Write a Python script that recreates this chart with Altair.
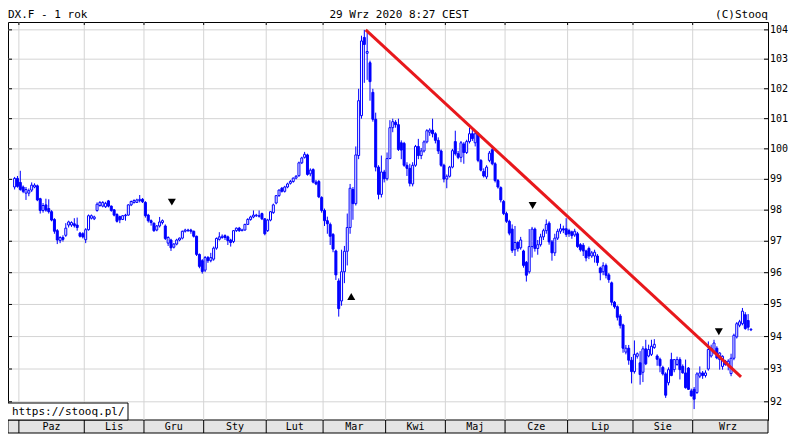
import altair as alt
import pandas as pd

# ---------------- data ----------------
opens = [
    98.75, 99.03, 98.90, 98.75, 98.55, 98.55, 98.65, 98.75, 98.79, 98.37,
    97.99, 98.17, 98.05, 97.95, 97.70, 97.34, 97.02, 97.12, 97.19, 97.52,
    97.52, 97.56, 97.52, 97.26, 97.24, 97.05, 97.37, 97.74, 97.72, 97.99,
    98.15, 98.13, 98.11, 98.30, 98.13, 98.01, 97.86, 97.79, 97.70, 97.82,
    97.84, 98.17, 98.25, 98.25, 98.31, 98.35, 98.25, 97.84, 97.66, 97.58,
    97.36, 97.49, 97.60, 97.49, 96.94, 97.04, 96.81, 96.91, 97.04, 97.10,
    97.32, 97.34, 97.36, 97.32, 97.16, 96.58, 96.38, 96.08, 96.48, 96.38,
    96.43, 96.78, 97.06, 97.12, 97.18, 97.14, 97.04, 96.99, 97.34, 97.42,
    97.34, 97.36, 97.54, 97.70, 97.78, 97.82, 97.80, 97.89, 97.72, 97.34,
    97.68, 97.92, 98.23, 98.47, 98.71, 98.61, 98.75, 98.87, 98.93, 99.04,
    99.12, 99.54, 99.72, 99.80, 99.18, 99.32, 98.91, 98.93, 98.41, 97.99,
    97.66, 97.54, 97.22, 96.69, 95.74, 95.11, 96.03, 96.68, 97.44, 98.67,
    98.21, 99.78, 101.10, 103.74, 103.20, 102.88, 101.88, 100.98, 99.40, 98.51,
    99.24, 99.02, 99.68, 100.70, 100.88, 100.80, 100.20, 100.18, 99.46, 99.36,
    98.85, 99.46, 100.08, 99.78, 99.93, 100.23, 100.55, 100.62, 100.50, 100.28,
    99.93, 99.46, 99.01, 99.10, 99.40, 100.24, 99.84, 99.72, 100.16, 99.88,
    100.24, 100.50, 100.20, 100.50, 99.62, 99.26, 99.08, 99.62, 99.97, 99.51,
    98.96, 98.73, 98.28, 97.89, 97.64, 97.39, 96.73, 96.96, 96.79, 96.69,
    96.33, 96.03, 96.83, 97.39, 96.77, 96.89, 97.14, 97.34, 97.58, 96.98,
    96.63, 97.10, 97.32, 97.40, 97.40, 97.34, 97.30, 97.20, 97.24, 96.89,
    96.87, 96.69, 96.77, 96.53, 96.53, 96.53, 96.15, 96.03, 96.23, 95.93,
    95.68, 95.07, 94.93, 94.64, 94.36, 93.52, 93.64, 93.27, 92.92, 93.39,
    93.19, 92.90, 93.62, 93.40, 93.45, 93.66, 93.40, 93.30, 93.05, 92.85,
    92.58, 93.29, 92.98, 93.14, 93.29, 93.08, 92.88, 93.03, 92.33, 92.38,
    92.28, 92.78, 92.88, 92.80, 93.00, 93.40, 93.50, 93.64, 93.29, 93.08,
    93.24, 93.14, 92.86, 93.33, 93.99, 94.35, 94.40, 94.68, 94.50, 94.21,
]
highs = [
    99.08, 99.11, 99.28, 98.80, 98.75, 98.70, 98.90, 98.87, 98.83, 98.40,
    98.23, 98.37, 98.35, 98.00, 97.74, 97.39, 97.16, 97.19, 97.58, 97.66,
    97.64, 97.74, 97.76, 97.30, 97.29, 97.42, 97.86, 97.86, 97.82, 98.25,
    98.29, 98.29, 98.27, 98.33, 98.15, 98.03, 97.90, 97.82, 97.84, 97.88,
    98.19, 98.31, 98.35, 98.37, 98.49, 98.39, 98.29, 97.88, 97.70, 97.60,
    97.52, 97.78, 97.70, 97.54, 97.16, 97.08, 96.94, 97.08, 97.12, 97.34,
    97.40, 97.40, 97.40, 97.34, 97.18, 96.61, 96.43, 96.53, 96.53, 96.63,
    96.83, 97.12, 97.29, 97.22, 97.22, 97.18, 97.08, 97.36, 97.44, 97.46,
    97.40, 97.56, 97.74, 97.82, 97.99, 97.88, 97.99, 97.92, 97.74, 97.72,
    97.97, 98.21, 98.49, 98.67, 98.75, 98.79, 98.89, 98.98, 99.06, 99.14,
    99.58, 99.74, 99.90, 99.84, 99.36, 99.36, 98.98, 98.98, 98.45, 98.05,
    97.79, 97.60, 97.26, 96.73, 95.82, 96.73, 96.85, 97.89, 98.85, 98.75,
    100.08, 102.00, 103.80, 104.00, 103.90, 102.95, 102.00, 101.20, 99.46, 99.78,
    99.31, 99.88, 100.95, 101.00, 100.95, 101.00, 100.28, 100.23, 99.56, 99.51,
    99.56, 100.13, 100.33, 100.03, 100.28, 100.65, 100.68, 101.00, 100.55, 100.38,
    99.98, 99.51, 99.16, 99.44, 100.00, 100.60, 99.93, 100.26, 100.22, 100.30,
    100.70, 100.62, 100.62, 100.55, 99.66, 99.36, 99.46, 99.93, 100.08, 99.56,
    99.01, 98.77, 98.33, 97.95, 97.69, 97.54, 97.49, 97.00, 97.14, 96.73,
    96.37, 97.39, 97.46, 97.44, 97.04, 97.24, 97.40, 97.70, 97.64, 97.04,
    97.24, 97.40, 97.56, 97.50, 97.74, 97.40, 97.34, 97.40, 97.30, 96.94,
    96.94, 96.73, 96.83, 96.69, 96.73, 96.59, 96.19, 96.33, 96.29, 95.99,
    95.72, 95.11, 94.97, 94.70, 94.40, 93.74, 93.74, 93.37, 93.88, 93.51,
    93.55, 93.70, 93.90, 93.75, 93.90, 93.92, 93.45, 93.35, 93.10, 92.90,
    93.05, 93.50, 93.30, 93.38, 93.36, 93.14, 93.29, 93.06, 92.40, 92.45,
    92.90, 93.08, 92.94, 92.96, 93.85, 93.75, 93.90, 93.70, 93.52, 93.42,
    93.28, 93.30, 93.47, 94.09, 94.45, 94.52, 94.89, 94.76, 94.70, 94.25,
]
lows = [
    98.67, 98.73, 98.63, 98.55, 98.33, 98.45, 98.59, 98.71, 98.29, 97.89,
    97.92, 97.95, 97.89, 97.64, 97.24, 96.91, 96.94, 96.99, 97.14, 97.44,
    97.46, 97.44, 97.34, 97.12, 97.09, 96.94, 97.34, 97.70, 97.68, 97.95,
    98.11, 98.09, 98.07, 98.09, 97.95, 97.80, 97.60, 97.58, 97.68, 97.66,
    97.82, 98.13, 98.21, 98.23, 98.25, 98.23, 97.76, 97.60, 97.50, 97.30,
    97.32, 97.44, 97.54, 97.04, 96.85, 96.69, 96.77, 96.87, 97.00, 97.06,
    97.28, 97.30, 97.24, 97.12, 96.53, 96.14, 95.97, 96.02, 96.31, 96.33,
    96.38, 96.73, 97.02, 97.08, 97.04, 96.88, 96.83, 96.94, 97.30, 97.30,
    97.32, 97.34, 97.52, 97.66, 97.74, 97.78, 97.76, 97.68, 97.19, 97.30,
    97.64, 97.88, 98.19, 98.43, 98.57, 98.57, 98.71, 98.83, 98.89, 99.00,
    99.08, 99.50, 99.68, 99.12, 99.10, 98.87, 98.81, 98.39, 97.92, 97.49,
    97.24, 96.88, 96.65, 95.77, 94.62, 94.96, 95.67, 96.23, 97.24, 97.69,
    98.15, 99.66, 101.00, 102.20, 102.30, 101.60, 100.90, 99.26, 98.35, 98.41,
    98.90, 98.96, 99.66, 100.55, 100.70, 99.93, 99.66, 99.41, 99.11, 98.77,
    98.77, 99.41, 99.66, 99.66, 99.88, 100.18, 100.43, 100.38, 100.18, 99.83,
    99.41, 98.90, 98.71, 99.06, 99.36, 99.78, 99.66, 99.56, 99.51, 99.83,
    100.18, 100.26, 100.08, 99.56, 99.26, 99.06, 99.01, 99.56, 99.46, 98.90,
    98.70, 98.25, 97.84, 97.59, 97.19, 96.63, 96.53, 96.67, 96.73, 96.16,
    95.72, 95.97, 96.48, 96.67, 96.57, 96.83, 97.04, 97.24, 96.89, 96.38,
    96.53, 97.04, 97.24, 97.26, 97.14, 97.14, 97.08, 97.14, 96.79, 96.67,
    96.53, 96.36, 96.43, 96.47, 96.32, 96.22, 95.76, 95.92, 95.82, 95.68,
    94.97, 94.87, 94.50, 94.25, 93.50, 93.45, 93.13, 92.56, 92.86, 93.32,
    92.52, 92.60, 93.12, 93.36, 93.40, 93.62, 93.10, 92.90, 92.80, 92.12,
    92.50, 92.78, 92.90, 93.10, 92.68, 92.86, 92.40, 92.36, 92.16, 91.78,
    92.24, 92.72, 92.70, 92.74, 92.95, 93.35, 93.45, 93.30, 92.98, 92.98,
    93.10, 92.96, 92.78, 93.27, 93.94, 94.29, 94.35, 94.21, 94.19, 94.17,
]
closes = [
    99.03, 98.77, 98.67, 98.61, 98.67, 98.63, 98.81, 98.81, 98.33, 97.99,
    98.15, 98.00, 97.95, 97.68, 97.32, 97.04, 97.12, 97.06, 97.42, 97.62,
    97.60, 97.50, 97.44, 97.16, 97.14, 97.37, 97.82, 97.82, 97.78, 98.19,
    98.25, 98.25, 98.22, 98.13, 97.99, 97.84, 97.64, 97.69, 97.82, 97.84,
    98.17, 98.28, 98.31, 98.33, 98.35, 98.27, 97.82, 97.66, 97.60, 97.34,
    97.49, 97.62, 97.66, 97.09, 97.12, 96.79, 96.91, 97.04, 97.10, 97.32,
    97.36, 97.36, 97.32, 97.16, 96.58, 96.20, 96.04, 96.48, 96.38, 96.48,
    96.78, 97.09, 97.14, 97.16, 97.12, 97.02, 96.96, 97.34, 97.42, 97.34,
    97.36, 97.54, 97.70, 97.78, 97.84, 97.84, 97.82, 97.72, 97.24, 97.68,
    97.95, 98.17, 98.47, 98.65, 98.61, 98.75, 98.85, 98.93, 99.04, 99.10,
    99.54, 99.70, 99.82, 99.16, 99.30, 98.91, 98.85, 98.43, 97.99, 97.66,
    97.56, 97.16, 96.75, 95.93, 94.87, 96.03, 96.68, 97.44, 98.71, 98.21,
    99.80, 101.60, 103.62, 103.50, 103.26, 102.24, 100.98, 99.40, 98.51, 99.24,
    99.02, 99.68, 100.70, 100.90, 100.80, 99.98, 99.96, 99.46, 99.36, 98.87,
    99.46, 100.08, 99.78, 99.93, 100.23, 100.60, 100.62, 100.50, 100.28, 99.93,
    99.46, 99.01, 99.10, 99.40, 99.94, 99.84, 99.72, 100.20, 99.88, 100.24,
    100.50, 100.34, 100.50, 99.62, 99.30, 99.11, 99.40, 99.86, 99.51, 98.96,
    98.75, 98.33, 97.89, 97.64, 97.26, 96.71, 96.96, 96.77, 97.04, 96.23,
    95.92, 96.83, 97.39, 96.77, 96.89, 97.14, 97.34, 97.54, 96.98, 96.63,
    97.10, 97.32, 97.40, 97.36, 97.22, 97.24, 97.18, 97.32, 96.83, 96.73,
    96.69, 96.47, 96.53, 96.63, 96.65, 96.32, 96.00, 96.22, 95.92, 95.78,
    95.07, 94.93, 94.60, 94.35, 93.64, 93.64, 93.27, 92.92, 93.45, 93.47,
    92.83, 93.62, 93.16, 93.60, 93.70, 93.76, 93.30, 93.10, 92.85, 92.20,
    92.98, 92.80, 93.29, 93.29, 92.98, 92.88, 92.43, 92.38, 92.18, 92.08,
    92.85, 92.88, 92.80, 92.88, 93.60, 93.64, 93.80, 93.34, 93.49, 93.39,
    93.14, 93.24, 93.33, 94.04, 94.40, 94.46, 94.79, 94.25, 94.29, 94.23,
]

month_names = ["Paz", "Lis", "Gru", "Sty", "Lut", "Mar", "Kwi", "Maj", "Cze", "Lip", "Sie", "Wrz"]
month_bounds = [1.5, 24.5, 45.5, 66.5, 88.5, 108.5, 130.5, 151.5, 172.5, 194.5, 217.5, 238.5]
month_mid = [13, 35, 56, 77.5, 98.5, 119.5, 141, 162, 183.5, 206, 228, 250.9]

y_ticks = [92, 93, 94, 95, 96, 97, 98, 99, 100, 101, 102, 103, 104]
y_labels = ["92", "93", "94", "95", "96", "97", "98", "99", "100", "101", "102", "103", "104"]

trend_x = [123.5, 255.5]
trend_y = [104.0, 92.76]

marker_x = [55.3, 118.4, 182.2, 247.7]
marker_y = [98.26, 95.25, 98.15, 94.15]
marker_shape = ["triangle-down", "triangle-up", "triangle-down", "triangle-down"]

title_left = ["DX.F - 1 rok"]
title_center = ["29 Wrz 2020 8:27 CEST"]
title_right = ["(C)Stooq"]
url_text = ["https://stooq.pl/"]

# ---------------- chart ----------------
W, H = 760, 398
BLUE = "#0000ff"
RED = "#e8181c"
GRID = "#d4d4d4"
FONT = "DejaVu Sans Mono"

candles = pd.DataFrame({
    "i": list(range(len(closes))),
    "open": opens, "high": highs, "low": lows, "close": closes,
})
bounds_df = pd.DataFrame({"b": month_bounds})
months_df = pd.DataFrame({"m": month_mid, "name": month_names})
yt_df = pd.DataFrame({"v": y_ticks, "lab": y_labels})
trend_df = pd.DataFrame({"i": trend_x, "v": trend_y})
mark_df = pd.DataFrame({"i": marker_x, "v": marker_y, "shape": marker_shape})

xs = alt.Scale(domain=[-0.57, 263.23], nice=False, zero=False)
ys = alt.Scale(type="log", domain=[91.45, 104.27], nice=False)


def X(f):
    return alt.X(f, type="quantitative", scale=xs, axis=None)


def Y(f):
    return alt.Y(f, type="quantitative", scale=ys, axis=None)


band = alt.Chart(pd.DataFrame({"t": title_left})).mark_rect(
    fill="#e4e4e4", stroke="black", strokeWidth=1
).encode(x=alt.value(0), x2=alt.value(W), y=alt.value(H), y2=alt.value(H + 13))

hgrid = alt.Chart(yt_df).mark_rule(color=GRID, strokeWidth=1).encode(y=Y("v"))
vgrid = alt.Chart(bounds_df).mark_rule(color=GRID, strokeWidth=1).encode(x=X("b"))

url_box = alt.Chart(pd.DataFrame({"t": url_text})).mark_rect(
    fill="white", stroke="black", strokeWidth=1
).encode(x=alt.value(-1), x2=alt.value(120), y=alt.value(H - 17), y2=alt.value(H))
url_lbl = alt.Chart(pd.DataFrame({"t": url_text})).mark_text(
    font=FONT, fontSize=11, align="left", baseline="middle", color="black"
).encode(x=alt.value(4), y=alt.value(H - 8), text="t:N")

wick = alt.Chart(candles).mark_rule(color=BLUE, strokeWidth=1).encode(
    x=X("i"), y=Y("low"), y2="high:Q",
)
body = alt.Chart(candles).mark_bar(size=2, stroke=BLUE, strokeWidth=1).encode(
    x=X("i"),
    y=Y("open"),
    y2="close:Q",
    fill=alt.condition("datum.close >= datum.open", alt.value("white"), alt.value(BLUE)),
)

trend = alt.Chart(trend_df).mark_line(color=RED, strokeWidth=3).encode(x=X("i"), y=Y("v"))

markers = alt.Chart(mark_df).mark_point(filled=True, size=64, color="black", opacity=1).encode(
    x=X("i"), y=Y("v"), shape=alt.Shape("shape:N", scale=None)
)

lticks = alt.Chart(yt_df).mark_rule(color="black").encode(
    x=alt.value(0), x2=alt.value(4), y=Y("v"))
rticks = alt.Chart(yt_df).mark_rule(color="black").encode(
    x=alt.value(W - 4), x2=alt.value(W), y=Y("v"))
ylabels = alt.Chart(yt_df).mark_text(
    font=FONT, fontSize=10, align="left", baseline="middle", color="black"
).encode(x=alt.value(W + 2), y=Y("v"), text="lab:N")
tticks = alt.Chart(bounds_df).mark_rule(color="black").encode(
    x=X("b"), y=alt.value(0), y2=alt.value(3))
seps = alt.Chart(bounds_df).mark_rule(color="black").encode(
    x=X("b"), y=alt.value(H), y2=alt.value(H + 13))
mlabels = alt.Chart(months_df).mark_text(
    font=FONT, fontSize=10, color="black", baseline="middle"
).encode(x=X("m"), y=alt.value(H + 7), text="name:N")

t_left = alt.Chart(pd.DataFrame({"t": title_left})).mark_text(
    font=FONT, fontSize=11, align="left", baseline="top", color="black"
).encode(x=alt.value(0), y=alt.value(-13), text="t:N")
t_center = alt.Chart(pd.DataFrame({"t": title_center})).mark_text(
    font=FONT, fontSize=11, align="center", baseline="top", color="black"
).encode(x=alt.value(391), y=alt.value(-13), text="t:N")
t_right = alt.Chart(pd.DataFrame({"t": title_right})).mark_text(
    font=FONT, fontSize=11, align="right", baseline="top", color="black"
).encode(x=alt.value(760), y=alt.value(-13), text="t:N")

chart = alt.layer(
    band, hgrid, vgrid, url_box, url_lbl, wick, body, trend, markers,
    lticks, rticks, ylabels, tticks, seps, mlabels, t_left, t_center, t_right,
).properties(
    width=W, height=H,
    autosize=alt.AutoSizeParams(type="none"),
    padding={"left": 0, "top": 14, "right": 20, "bottom": 14},
    background="white",
).configure_view(stroke="black", strokeWidth=1)

chart.save("out.html", embed_options={"renderer": "svg", "actions": False})
